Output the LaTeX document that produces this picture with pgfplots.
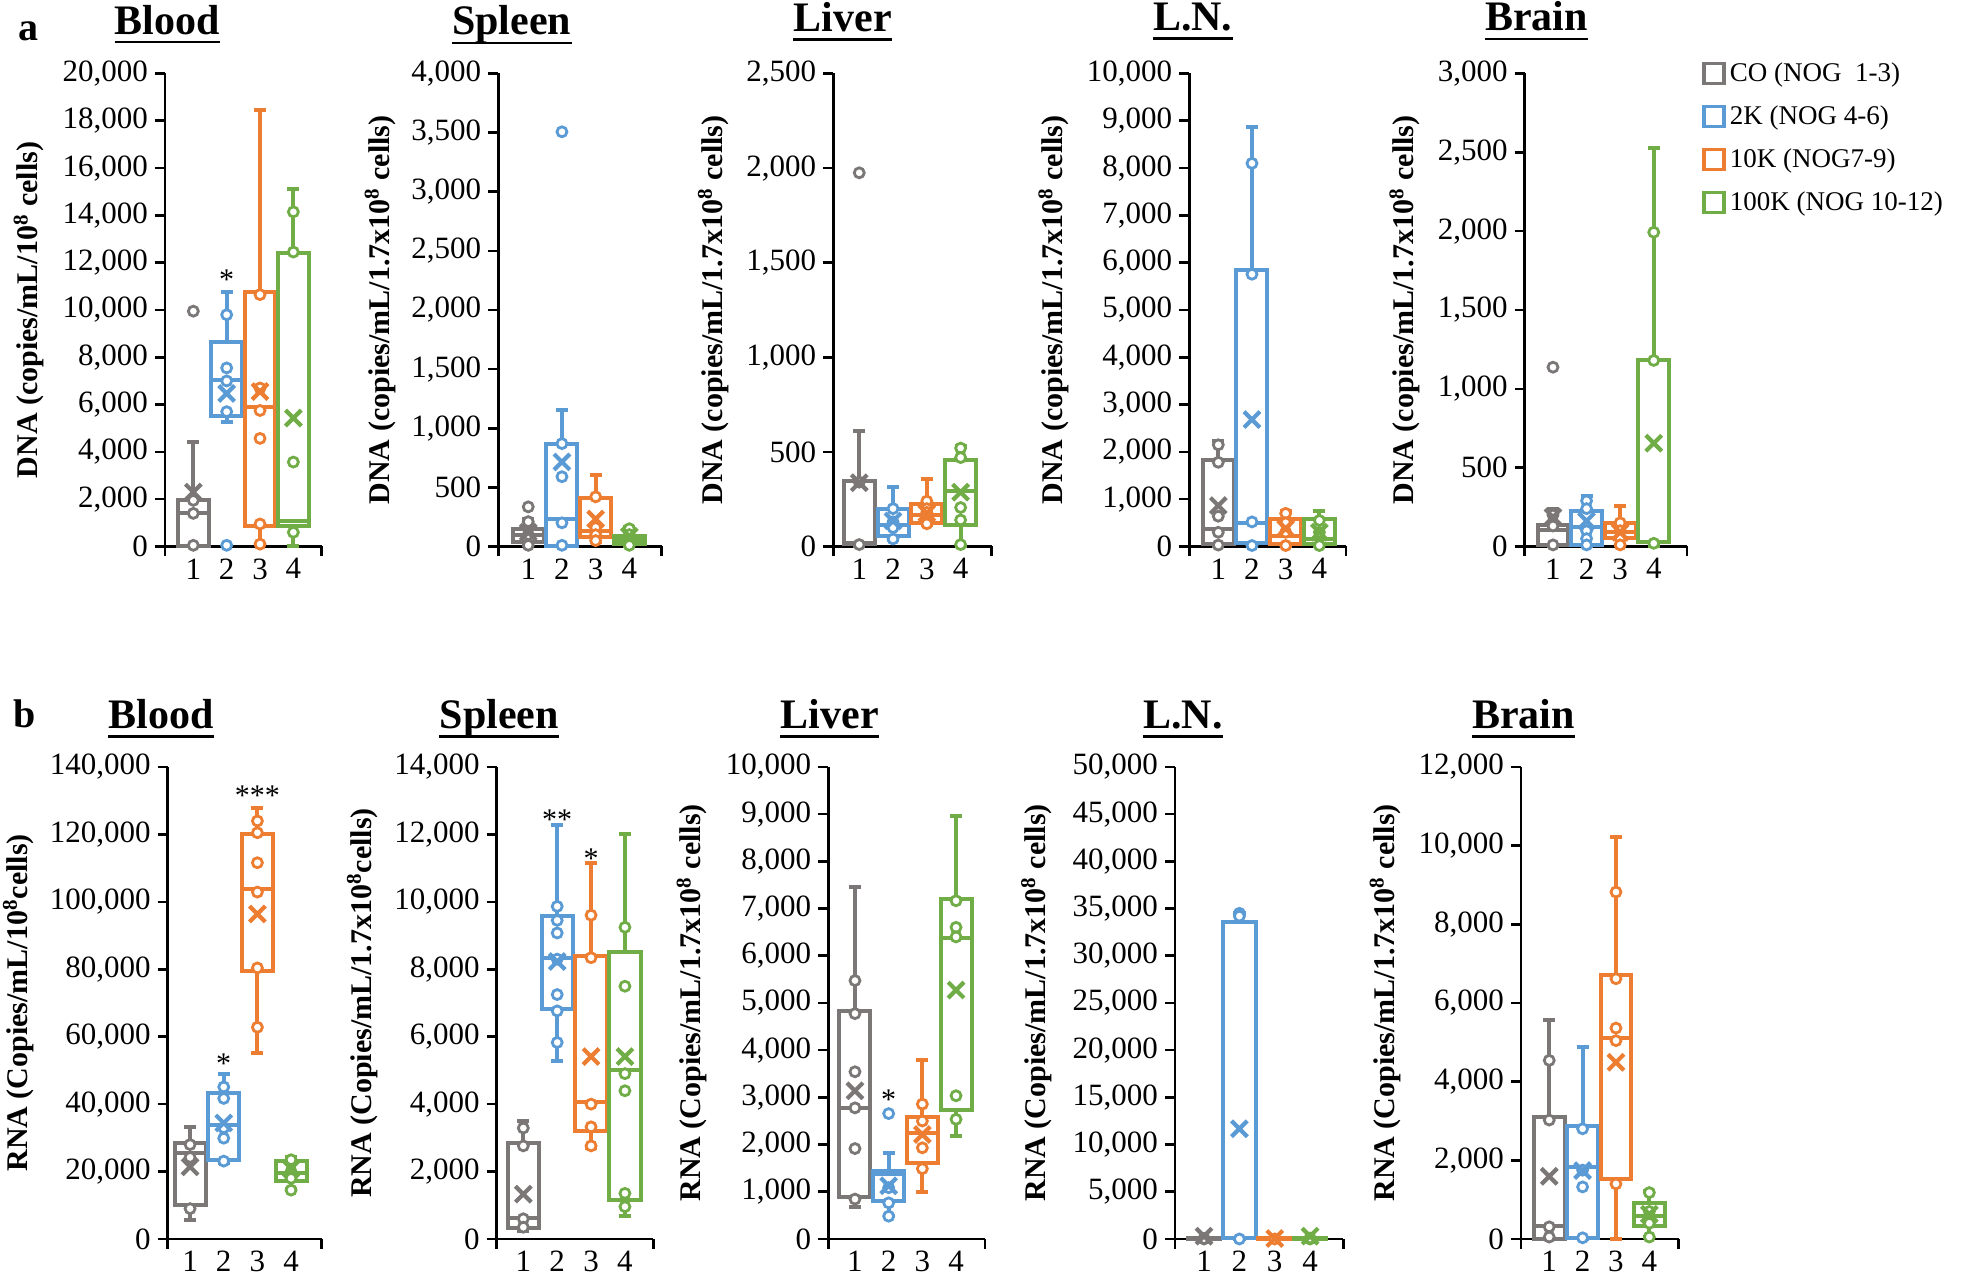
\documentclass[border=0pt]{standalone}
\usepackage{fontspec}
\setmainfont{Liberation Serif}
\usepackage{pgfplots}
\pgfplotsset{compat=1.18}

\definecolor{cgray}{HTML}{7B7777}
\definecolor{cblue}{HTML}{5B9BD5}
\definecolor{corange}{HTML}{ED7D31}
\definecolor{cgreen}{HTML}{70AD47}

\pgfplotsset{
  panel/.style={scale only axis, anchor=south west, ymin=0, clip=false,
    axis x line*=bottom, axis y line*=left,
    axis line style={-, line width=1.3pt, black},
    tick align=outside, major tick length=5pt,
    tick style={line width=1.3pt, black},
    xticklabels={},
    extra x ticks={1,2,3,4}, extra x tick labels={1,2,3,4},
    extra x tick style={major tick length=0pt, xticklabel style={yshift=-2.5pt}},
    scaled y ticks=false,
    tick label style={font=\fontsize{15.5}{15.5}\selectfont},
    yticklabel style={/pgf/number format/fixed, /pgf/number format/1000 sep={,},
      /pgf/number format/assume math mode=true},
    every axis y label/.style={at={(axis description cs:-0.8,0.5)}, rotate=90,
      anchor=center, font=\bfseries\fontsize{15}{15}\selectfont},
  },
  xr/.style 2 args={xmin=#1, xmax=#2, xtick={#1,#2}},
  ylx/.style={y label style={at={(axis description cs:#1,0.5)}}},
  rowa/.style={panel, height=236.5pt},
  rowb/.style={panel, height=236pt},
  bxs/.style={draw=#1, line width=2pt, mark=none, line join=miter},
  pts/.style={only marks, mark=*, mark size=2.5pt,
    mark options={draw=#1, fill=white, line width=1.4pt, solid}},
  mn/.style={only marks, mark=x, mark size=5.6pt,
    mark options={draw=#1, line width=2.1pt}},
}

% colour, position, lower whisker, lower quartile, median, upper quartile, upper whisker
\newcommand{\bx}[7]{%
  \pgfmathsetmacro\xl{#2-0.46}\pgfmathsetmacro\xh{#2+0.46}%
  \pgfmathsetmacro\cl{#2-0.18}\pgfmathsetmacro\ch{#2+0.18}%
  \edef\bxplots{%
    \noexpand\addplot[bxs=#1] coordinates {(#2,#3) (#2,#4)};
    \noexpand\addplot[bxs=#1] coordinates {(\cl,#3) (\ch,#3)};
    \noexpand\addplot[bxs=#1] coordinates {(#2,#6) (#2,#7)};
    \noexpand\addplot[bxs=#1] coordinates {(\cl,#7) (\ch,#7)};
    \noexpand\addplot[bxs=#1, fill=white] coordinates {(\xl,#4) (\xh,#4) (\xh,#6) (\xl,#6)} -- cycle;
    \noexpand\addplot[bxs=#1] coordinates {(\xl,#5) (\xh,#5)};
  }\bxplots}
\newcommand{\dpts}[2]{\addplot[pts=#1] coordinates {#2};}
\newcommand{\mean}[3]{\addplot[mn=#1] coordinates {(#2,#3)};}
\newcommand{\sig}[3]{\node[font=\fontsize{15}{15}\selectfont] at (axis cs:#1,#2) {#3};}
\newcommand{\ttl}[3]{\node[font=\bfseries\fontsize{21}{21}\selectfont, inner sep=0pt,
  anchor=base] (t) at (#1,#2) {#3};
  \draw[line width=1.3pt] ([yshift=-4pt]t.base west) -- ([yshift=-4pt]t.base east);}

\begin{document}
\begin{tikzpicture}
\useasboundingbox (0,0) rectangle (980.5pt,639pt);

% ---------- a: DNA ----------
\begin{axis}[rowa, at={(82.5pt,365.75pt)}, width=78.35pt, xr={0.15}{4.85},
  ymax=20000, ytick distance=2000, ylx=-0.868,
  ylabel={DNA (copies/mL/10\textsuperscript{8} cells)}]
\bx{cgray}{1}{0}{0}{1400}{1950}{4400}
\dpts{cgray}{(1,50) (1,1400) (1,1950) (1,9950)}
\mean{cgray}{1}{2300}
\bx{cblue}{2}{5270}{5500}{7050}{8650}{10750}
\dpts{cblue}{(2,9800) (2,7550) (2,7000) (2,5700) (2,50)}
\mean{cblue}{2}{6470}
\bx{corange}{3}{100}{870}{5900}{10770}{18470}
\dpts{corange}{(3,10650) (3,6700) (3,5750) (3,4570) (3,950) (3,100)}
\mean{corange}{3}{6550}
\bx{cgreen}{4}{0}{870}{1080}{12400}{15120}
\dpts{cgreen}{(4,14150) (4,12450) (4,3570) (4,600)}
\mean{cgreen}{4}{5430}
\sig{2}{11300}{*}
\end{axis}

\begin{axis}[rowa, at={(249.15pt,365.75pt)}, width=81.7pt, xr={0.111}{4.96},
  ymax=4000, ytick distance=500, ylx=-0.724,
  ylabel={DNA (copies/mL/1.7x10\textsuperscript{8} cells)}]
\bx{cgray}{1}{10}{40}{100}{150}{230}
\dpts{cgray}{(1,335) (1,210) (1,100) (1,10)}
\mean{cgray}{1}{120}
\bx{cblue}{2}{0}{5}{230}{866}{1150}
\dpts{cblue}{(2,3507) (2,870) (2,590) (2,200) (2,10)}
\mean{cblue}{2}{715}
\bx{corange}{3}{40}{77}{135}{409}{602}
\dpts{corange}{(3,420) (3,160) (3,100) (3,50)}
\mean{corange}{3}{232}
\bx{cgreen}{4}{5}{20}{55}{87}{167}
\dpts{cgreen}{(4,150) (4,100) (4,40) (4,10)}
\mean{cgreen}{4}{87}
\end{axis}

\begin{axis}[rowa, at={(416.65pt,365.75pt)}, width=79.2pt, xr={0.232}{4.92},
  ymax=2500, ytick distance=500, ylx=-0.758,
  ylabel={DNA (copies/mL/1.7x10\textsuperscript{8} cells)}]
\bx{cgray}{1}{0}{14}{20}{348}{610}
\dpts{cgray}{(1,1975) (1,340) (1,10)}
\mean{cgray}{1}{337}
\bx{cblue}{2}{34}{55}{115}{196}{317}
\dpts{cblue}{(2,200) (2,130) (2,100) (2,40)}
\mean{cblue}{2}{135}
\bx{corange}{3}{115}{125}{166}{226}{358}
\dpts{corange}{(3,240) (3,200) (3,180) (3,120)}
\mean{corange}{3}{176}
\bx{cgreen}{4}{4}{115}{291}{459}{530}
\dpts{cgreen}{(4,520) (4,470) (4,206) (4,140) (4,10)}
\mean{cgreen}{4}{287}
\end{axis}

\begin{axis}[rowa, at={(594.65pt,365.75pt)}, width=78.35pt, xr={0.14}{4.79},
  ymax=10000, ytick distance=1000, ylx=-0.864,
  ylabel={DNA (copies/mL/1.7x10\textsuperscript{8} cells)}]
\bx{cgray}{1}{0}{57}{380}{1835}{2240}
\dpts{cgray}{(1,2150) (1,1780) (1,640) (1,300) (1,30)}
\mean{cgray}{1}{865}
\bx{cblue}{2}{0}{80}{500}{5837}{8868}
\dpts{cblue}{(2,8100) (2,5756) (2,520) (2,20)}
\mean{cblue}{2}{2684}
\bx{corange}{3}{0}{57}{220}{582}{744}
\dpts{corange}{(3,700) (3,500) (3,300) (3,20)}
\mean{corange}{3}{380}
\bx{cgreen}{4}{0}{57}{150}{582}{744}
\dpts{cgreen}{(4,550) (4,300) (4,20)}
\mean{cgreen}{4}{300}
\end{axis}

\begin{axis}[rowa, at={(762.35pt,365.75pt)}, width=81.15pt, xr={0.158}{4.99},
  ymax=3000, ytick distance=500, ylx=-0.739,
  ylabel={DNA (copies/mL/1.7x10\textsuperscript{8} cells)},
  legend style={at={(axis description cs:1.092,1.032)}, anchor=north west,
    draw=none, fill=none, font=\fontsize{13.5}{13.5}\selectfont,
    row sep=6.6pt, inner sep=0pt, nodes={inner xsep=2pt}},
  legend cell align=left,
  legend image code/.code={\draw[line width=1.8pt,#1] (0pt,-5pt) rectangle (10pt,5pt);}]
\addlegendimage{draw=cgray}\addlegendentry{CO (NOG\ \ 1-3)}
\addlegendimage{draw=cblue}\addlegendentry{2K (NOG 4-6)}
\addlegendimage{draw=corange}\addlegendentry{10K (NOG7-9)}
\addlegendimage{draw=cgreen}\addlegendentry{100K (NOG 10-12)}
\bx{cgray}{1}{0}{10}{102}{138}{235}
\dpts{cgray}{(1,1137) (1,200) (1,130) (1,10)}
\mean{cgray}{1}{187}
\bx{cblue}{2}{0}{10}{126}{223}{320}
\dpts{cblue}{(2,290) (2,240) (2,100) (2,50) (2,10)}
\mean{cblue}{2}{162}
\bx{corange}{3}{10}{53}{90}{150}{259}
\dpts{corange}{(3,150) (3,100) (3,50) (3,10)}
\mean{corange}{3}{90}
\bx{cgreen}{4}{0}{29}{29}{1181}{2527}
\dpts{cgreen}{(4,1993) (4,1180) (4,20)}
\mean{cgreen}{4}{655}
\end{axis}

% ---------- b: RNA ----------
\begin{axis}[rowb, at={(83.85pt,19.5pt)}, width=77pt, xr={0.335}{4.91},
  ymax=140000, ytick distance=20000, ylx=-0.970,
  ylabel={RNA (Copies/mL/10\textsuperscript{8}cells)}]
\bx{cgray}{1}{5600}{10100}{25400}{28400}{33300}
\dpts{cgray}{(1,28000) (1,24200) (1,9000)}
\mean{cgray}{1}{21400}
\bx{cblue}{2}{22500}{23400}{33800}{43400}{49000}
\dpts{cblue}{(2,45100) (2,41700) (2,33000) (2,29900) (2,23100)}
\mean{cblue}{2}{34400}
\bx{corange}{3}{55200}{79500}{103700}{120100}{127900}
\dpts{corange}{(3,124000) (3,120500) (3,111600) (3,102900) (3,80400) (3,62800)}
\mean{corange}{3}{96400}
\bx{cgreen}{4}{14700}{17100}{19700}{23100}{24200}
\dpts{cgreen}{(4,23500) (4,20000) (4,18000) (4,14500)}
\mean{cgreen}{4}{20900}
\sig{2}{52000}{*}
\sig{3}{131500}{***}
\end{axis}

\begin{axis}[rowb, at={(248.35pt,19.5pt)}, width=78.35pt, xr={0.214}{4.84},
  ymax=14000, ytick distance=2000, ylx=-0.858,
  ylabel={RNA (Copies/mL/1.7x10\textsuperscript{8}cells)}]
\bx{cgray}{1}{225}{338}{620}{2841}{3495}
\dpts{cgray}{(1,3292) (1,2762) (1,600) (1,350)}
\mean{cgray}{1}{1330}
\bx{cblue}{2}{5276}{6820}{8343}{9583}{12289}
\dpts{cblue}{(2,9865) (2,9450) (2,9076) (2,8300) (2,7250) (2,6765) (2,5829)}
\mean{cblue}{2}{8230}
\bx{corange}{3}{2700}{3214}{4058}{8400}{11138}
\dpts{corange}{(3,9604) (3,8343) (3,4000) (3,3326) (3,2762)}
\mean{corange}{3}{5411}
\bx{cgreen}{4}{676}{1150}{5017}{8512}{12007}
\dpts{cgreen}{(4,9245) (4,7497) (4,4904) (4,4397) (4,1353) (4,958)}
\mean{cgreen}{4}{5411}
\sig{2}{12450}{**}
\sig{3}{11270}{*}
\end{axis}

\begin{axis}[rowb, at={(414.15pt,19.5pt)}, width=78.35pt, xr={0.208}{4.86},
  ymax=10000, ytick distance=1000, ylx=-0.870,
  ylabel={RNA (Copies/mL/1.7x10\textsuperscript{8} cells)}]
\bx{cgray}{1}{684}{886}{2778}{4831}{7448}
\dpts{cgray}{(1,5475) (1,4775) (1,3543) (1,2778) (1,1916) (1,845)}
\mean{cgray}{1}{3140}
\bx{cblue}{2}{483}{805}{1369}{1449}{1812}
\dpts{cblue}{(2,2657) (2,1087) (2,765) (2,483)}
\mean{cblue}{2}{1127}
\bx{corange}{3}{1006}{1610}{2254}{2577}{3784}
\dpts{corange}{(3,2858) (3,2500) (3,1932) (3,1490)}
\mean{corange}{3}{2214}
\bx{cgreen}{4}{2190}{2738}{6377}{7206}{8961}
\dpts{cgreen}{(4,7166) (4,6602) (4,6400) (4,3035) (4,2536)}
\mean{cgreen}{4}{5274}
\sig{2}{2950}{*}
\end{axis}

\begin{axis}[rowb, at={(587.5pt,19.5pt)}, width=84.15pt, xr={0.178}{4.94},
  ymax=50000, ytick distance=5000, ylx=-0.822,
  ylabel={RNA (Copies/mL/1.7x10\textsuperscript{8} cells)}]
\bx{cgray}{1}{0}{0}{50}{100}{150}
\dpts{cgray}{(1,0) (1,50)}
\mean{cgray}{1}{300}
\bx{cblue}{2}{0}{80}{80}{33615}{34541}
\dpts{cblue}{(2,34500) (2,34200) (2,0)}
\mean{cblue}{2}{11675}
\bx{corange}{3}{0}{0}{50}{100}{150}
\dpts{corange}{(3,0)}
\mean{corange}{3}{50}
\bx{cgreen}{4}{0}{0}{50}{100}{150}
\dpts{cgreen}{(4,0) (4,100)}
\mean{cgreen}{4}{300}
\end{axis}

\begin{axis}[rowb, at={(760.45pt,19.5pt)}, width=78.9pt, xr={0.151}{4.88},
  ymax=12000, ytick distance=2000, ylx=-0.861,
  ylabel={RNA (Copies/mL/1.7x10\textsuperscript{8} cells)}]
\bx{cgray}{1}{0}{0}{338}{3092}{5556}
\dpts{cgray}{(1,4541) (1,3024) (1,309) (1,50)}
\mean{cgray}{1}{1594}
\bx{cblue}{2}{0}{20}{1836}{2879}{4879}
\dpts{cblue}{(2,2802) (2,1750) (2,1324) (2,30)}
\mean{cblue}{2}{1739}
\bx{corange}{3}{0}{1527}{5121}{6715}{10222}
\dpts{corange}{(3,8821) (3,6618) (3,5362) (3,5043) (3,1401)}
\mean{corange}{3}{4493}
\bx{cgreen}{4}{48}{338}{580}{918}{1208}
\dpts{cgreen}{(4,1179) (4,700) (4,400) (4,50)}
\mean{cgreen}{4}{628}
\end{axis}

% titles and panel letters
\ttl{83.75pt}{621.95pt}{Blood}
\ttl{255.85pt}{621.55pt}{Spleen}
\ttl{421.35pt}{623.3pt}{Liver}
\ttl{596.35pt}{623.85pt}{L.N.}
\ttl{768.2pt}{623.5pt}{Brain}
\ttl{80.65pt}{274.8pt}{Blood}
\ttl{249.65pt}{274.8pt}{Spleen}
\ttl{414.85pt}{274.8pt}{Liver}
\ttl{591.5pt}{274.8pt}{L.N.}
\ttl{761.8pt}{274.8pt}{Brain}
\node[font=\bfseries\fontsize{20}{20}\selectfont, anchor=base] at (14.2pt,618.9pt) {a};
\node[font=\bfseries\fontsize{20}{20}\selectfont, anchor=base] at (12.5pt,275.15pt) {b};
\end{tikzpicture}
\end{document}
